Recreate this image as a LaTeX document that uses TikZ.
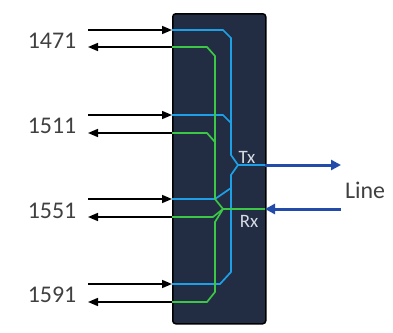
\documentclass[tikz,border=0pt]{standalone}
\usepackage{fontspec}
\setmainfont{Carlito}
\usetikzlibrary{arrows.meta,positioning}
\definecolor{boxnavy}{RGB}{34,44,66}
\definecolor{txblue}{RGB}{30,160,230}
\definecolor{rxgreen}{RGB}{60,200,70}
\definecolor{lineblue}{RGB}{35,75,170}
\definecolor{labelgray}{RGB}{64,64,64}
\definecolor{portgray}{RGB}{215,220,228}

\begin{document}
\begin{tikzpicture}[x=1bp, y=-1bp,
		chan/.style={font=\fontsize{24}{28}\selectfont, text=labelgray, inner sep=0pt},
		port/.style={font=\fontsize{19}{22}\selectfont, text=portgray, inner sep=0pt},
		fib/.style={-{Triangle[length=10bp,width=8bp]}, line width=1.6bp, black},
		linearrow/.style={-{Triangle[length=10bp,width=10bp]}, line width=3bp, lineblue},
		tx/.style={txblue, line width=1.7bp},
		rx/.style={rxgreen, line width=1.7bp}]
		\useasboundingbox (0,0) rectangle (393,333);
		\fill[white] (0,0) rectangle (393,333);

		% Draw the multiplexer box
		\node[draw=black, fill=boxnavy, line width=1.5bp, rounded corners=3bp,
			minimum width=93bp, minimum height=310bp, inner sep=0pt, anchor=north west] (mux) at (172,13) {};

		% Draw channel labels with their in and out fibres
		\foreach \lbl/\yb/\yg/\yt in {1471/30/47/41, 1511/115/133/126, 1551/199/217/211, 1591/284/302/295} {
				\node[chan] (c\lbl) at (52,\yt) {\lbl};
				\coordinate (in\lbl) at (172,\yb);
				\coordinate (src\lbl) at (88,\yb);
				\coordinate (out\lbl) at (172,\yg);
				\coordinate (dst\lbl) at (88,\yg);
				\draw[fib] (src\lbl) -- (in\lbl);
				\draw[fib] (out\lbl) -- (dst\lbl);
			}

		% Junctions and line ports
		\coordinate (txj) at (238,165);
		\coordinate (rxj) at (223,209);
		\coordinate (txport) at (265,165);
		\coordinate (rxport) at (265,209);
		\coordinate (txend) at (341,165);
		\coordinate (rxstart) at (341,209);

		% Draw Tx paths (blue)
		\draw[tx] (in1471) -- (223,30) -- (231,38) -- (231,155) -- (txj);
		\draw[tx] (in1511) -- (223,115) -- (231,123);
		\draw[tx] (in1551) -- (215,199) -- (231,188);
		\draw[tx] (txj) -- (231,175) -- (231,272) -- (220,284) -- (in1591);
		\draw[tx] (txj) -- (txport);

		% Draw Rx paths (green)
		\draw[rx] (out1471) -- (207,47) -- (215,56) -- (215,199) -- (rxj);
		\draw[rx] (out1511) -- (207,133) -- (215,142);
		\draw[rx] (out1551) -- (213,217) -- (rxj);
		\draw[rx] (rxj) -- (215,222) -- (215,292) -- (207,302) -- (out1591);
		\draw[rx] (rxj) -- (rxport);

		% Port labels
		\node[port] (txlbl) at (247,157) {Tx};
		\node[port] (rxlbl) at (249,221) {Rx};

		% Line arrows
		\draw[linearrow] (txport) -- (txend);
		\draw[linearrow] (rxstart) -- (rxport);
		\node[chan] (line) at (365,190) {Line};
	\end{tikzpicture}
\end{document}
